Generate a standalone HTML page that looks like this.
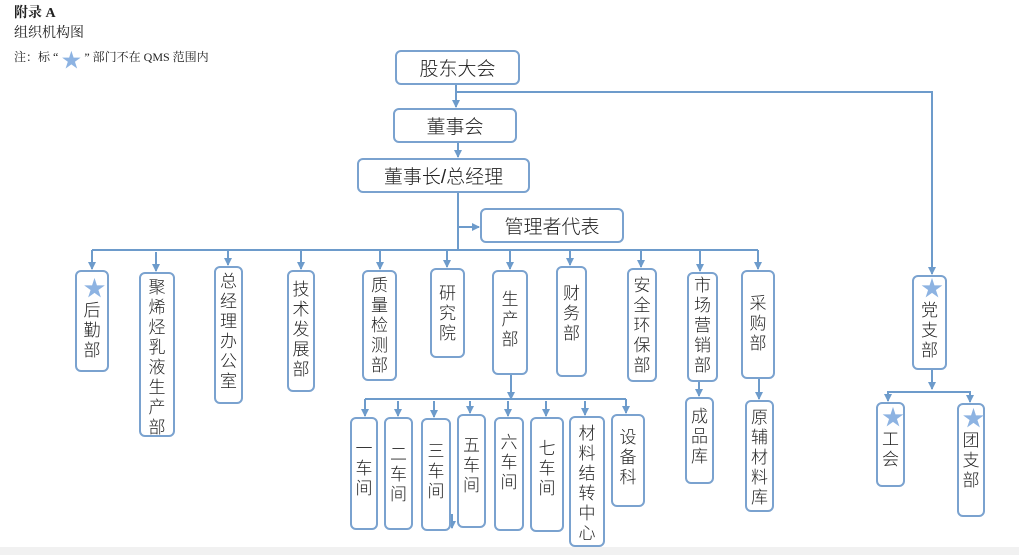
<!DOCTYPE html>
<html><head><meta charset="utf-8"><style>
body{margin:0;width:1019px;height:555px;background:#fff;position:relative;overflow:hidden;font-family:"Liberation Sans","Noto Sans CJK SC",sans-serif;}
.b{position:absolute;border:2px solid #7aa2cf;border-radius:6px;box-sizing:border-box;background:#fff;color:#222;font-weight:300;}
.h{display:flex;align-items:center;justify-content:center;font-size:19px;}
.v{font-size:17px;line-height:20px;text-align:center;padding-top:6px;}
.v span{display:inline-block;width:17px;word-break:break-all;}
.s{color:#8db3e2;font-size:22px;line-height:24px;display:block;}
.t{position:absolute;font-family:"Liberation Serif","Noto Serif CJK SC",serif;color:#222;font-size:14px;}
</style></head><body>
<div class="t" style="left:14px;top:2px;font-weight:bold;">附录 A</div>
<div class="t" style="left:14px;top:22px;">组织机构图</div>
<div class="t" style="left:14px;top:44px;font-size:12px;">注：标 “ <span style="color:#8db3e2;font-size:20px;vertical-align:-6px;">★</span> ” 部门不在 QMS 范围内</div>
<div style="position:absolute;left:0;top:547px;width:1019px;height:8px;background:#f1f1f1;"></div>
<svg style="position:absolute;left:0;top:0" width="1019" height="555">
<defs>
<marker id="a" markerWidth="8" markerHeight="8" refX="7" refY="4" orient="auto" markerUnits="userSpaceOnUse"><path d="M0,0 L8,4 L0,8z" fill="#6d9bcb"/></marker>
<marker id="r" markerWidth="8" markerHeight="8" refX="7" refY="4" orient="auto" markerUnits="userSpaceOnUse"><path d="M0,0 L8,4 L0,8z" fill="#6d9bcb"/></marker></defs>
<g stroke="#6d9bcb" stroke-width="2" fill="none">
<line x1="456" y1="85" x2="456" y2="107" marker-end="url(#a)"/>
<polyline points="456,92 932,92 932,274" marker-end="url(#a)"/>
<line x1="458" y1="143" x2="458" y2="157" marker-end="url(#a)"/>
<line x1="458" y1="193" x2="458" y2="250"/>
<line x1="458" y1="227" x2="479" y2="227" marker-end="url(#r)"/>
<line x1="92" y1="250" x2="758" y2="250"/>
<line x1="92" y1="250" x2="92" y2="269" marker-end="url(#a)"/>
<line x1="156" y1="252" x2="156" y2="271" marker-end="url(#a)"/>
<line x1="228" y1="250" x2="228" y2="265" marker-end="url(#a)"/>
<line x1="301" y1="250" x2="301" y2="269" marker-end="url(#a)"/>
<line x1="380" y1="250" x2="380" y2="269" marker-end="url(#a)"/>
<line x1="447" y1="250" x2="447" y2="267" marker-end="url(#a)"/>
<line x1="510" y1="250" x2="510" y2="269" marker-end="url(#a)"/>
<line x1="570" y1="250" x2="570" y2="265" marker-end="url(#a)"/>
<line x1="641" y1="250" x2="641" y2="267" marker-end="url(#a)"/>
<line x1="700" y1="250" x2="700" y2="271" marker-end="url(#a)"/>
<line x1="758" y1="250" x2="758" y2="269" marker-end="url(#a)"/>
<line x1="511" y1="375" x2="511" y2="399" marker-end="url(#a)"/>
<line x1="365" y1="399" x2="626" y2="399"/>
<line x1="365" y1="399" x2="365" y2="416" marker-end="url(#a)"/>
<line x1="398" y1="401" x2="398" y2="416" marker-end="url(#a)"/>
<line x1="434" y1="401" x2="434" y2="417" marker-end="url(#a)"/>
<line x1="470" y1="401" x2="470" y2="413" marker-end="url(#a)"/>
<line x1="508" y1="401" x2="508" y2="416" marker-end="url(#a)"/>
<line x1="546" y1="401" x2="546" y2="416" marker-end="url(#a)"/>
<line x1="585" y1="401" x2="585" y2="415" marker-end="url(#a)"/>
<line x1="626" y1="399" x2="626" y2="413" marker-end="url(#a)"/>
<line x1="452" y1="514" x2="452" y2="528" marker-end="url(#a)"/>
<line x1="699" y1="382" x2="699" y2="396" marker-end="url(#a)"/>
<line x1="759" y1="379" x2="759" y2="399" marker-end="url(#a)"/>
<line x1="932" y1="370" x2="932" y2="389" marker-end="url(#a)"/>
<polyline points="888,394 888,392 970,392 970,394" />
<line x1="888" y1="392" x2="888" y2="401" marker-end="url(#a)"/>
<line x1="970" y1="392" x2="970" y2="402" marker-end="url(#a)"/>
</g></svg>
<div class="b h" style="left:395px;top:50px;width:125px;height:35px;">股东大会</div>
<div class="b h" style="left:393px;top:108px;width:124px;height:35px;">董事会</div>
<div class="b h" style="left:357px;top:158px;width:173px;height:35px;">董事长/总经理</div>
<div class="b h" style="left:480px;top:208px;width:144px;height:35px;">管理者代表</div>
<div class="b v" style="left:75px;top:270px;width:34px;height:102px;padding-top:5px;"><span class="s">★</span><span>后勤部</span></div>
<div class="b v" style="left:139px;top:272px;width:36px;height:165px;padding-top:4px;"><span>聚烯烃乳液生产部</span></div>
<div class="b v" style="left:214px;top:266px;width:29px;height:138px;padding-top:4px;"><span>总经理办公室</span></div>
<div class="b v" style="left:287px;top:270px;width:28px;height:122px;padding-top:8px;"><span>技术发展部</span></div>
<div class="b v" style="left:362px;top:270px;width:35px;height:111px;padding-top:4px;"><span>质量检测部</span></div>
<div class="b v" style="left:430px;top:268px;width:35px;height:90px;padding-top:14px;"><span>研究院</span></div>
<div class="b v" style="left:492px;top:270px;width:36px;height:105px;padding-top:18px;"><span>生产部</span></div>
<div class="b v" style="left:556px;top:266px;width:31px;height:111px;padding-top:16px;"><span>财务部</span></div>
<div class="b v" style="left:627px;top:268px;width:30px;height:114px;padding-top:6px;"><span>安全环保部</span></div>
<div class="b v" style="left:687px;top:272px;width:31px;height:110px;padding-top:2px;"><span>市场营销部</span></div>
<div class="b v" style="left:741px;top:270px;width:34px;height:109px;padding-top:22px;"><span>采购部</span></div>
<div class="b v" style="left:912px;top:275px;width:35px;height:95px;padding-top:0px;"><span class="s">★</span><span>党支部</span></div>
<div class="b v" style="left:350px;top:417px;width:28px;height:113px;padding-top:20px;"><span>一车间</span></div>
<div class="b v" style="left:384px;top:417px;width:29px;height:113px;padding-top:26px;"><span>二车间</span></div>
<div class="b v" style="left:421px;top:418px;width:30px;height:113px;padding-top:22px;"><span>三车间</span></div>
<div class="b v" style="left:457px;top:414px;width:29px;height:114px;padding-top:20px;"><span>五车间</span></div>
<div class="b v" style="left:494px;top:417px;width:30px;height:114px;padding-top:14px;"><span>六车间</span></div>
<div class="b v" style="left:530px;top:417px;width:34px;height:115px;padding-top:20px;"><span>七车间</span></div>
<div class="b v" style="left:569px;top:416px;width:36px;height:131px;padding-top:6px;"><span>材料结转中心</span></div>
<div class="b v" style="left:611px;top:414px;width:34px;height:93px;padding-top:12px;"><span>设备科</span></div>
<div class="b v" style="left:685px;top:397px;width:29px;height:87px;padding-top:8px;"><span>成品库</span></div>
<div class="b v" style="left:745px;top:400px;width:29px;height:112px;padding-top:6px;"><span>原辅材料库</span></div>
<div class="b v" style="left:876px;top:402px;width:29px;height:85px;padding-top:2px;"><span class="s">★</span><span>工会</span></div>
<div class="b v" style="left:957px;top:403px;width:28px;height:114px;padding-top:2px;"><span class="s">★</span><span>团支部</span></div>
</body></html>
